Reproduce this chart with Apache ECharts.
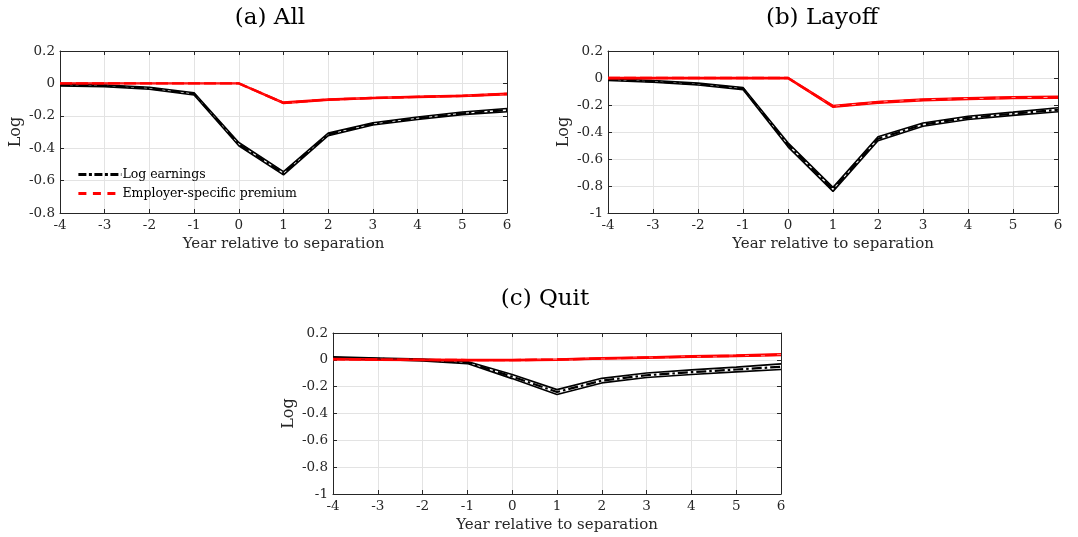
<!DOCTYPE html>
<html><head><meta charset="utf-8">
<script src="https://cdn.jsdelivr.net/npm/echarts@6/dist/echarts.min.js"></script>
<style>html,body{margin:0;padding:0;background:#fff}#c{width:1078px;height:537px}</style>
</head><body><div id="c"></div>
<script>
const years = [-4,-3,-2,-1,0,1,2,3,4,5,6];
const panelTitles = ['(a) All','(b) Layoff','(c) Quit'];
const legendNames = ['Log earnings','Employer-specific premium'];
const xAxisTitle = 'Year relative to separation';
const yAxisTitle = 'Log';

// (a) All
const allEarn   = [-0.010,-0.015,-0.030,-0.065,-0.375,-0.555,-0.315,-0.250,-0.215,-0.185,-0.165];
const allEarnHi = [-0.005,-0.010,-0.024,-0.058,-0.365,-0.545,-0.307,-0.243,-0.207,-0.177,-0.155];
const allEarnLo = [-0.015,-0.020,-0.036,-0.072,-0.385,-0.565,-0.323,-0.257,-0.223,-0.193,-0.175];
const allPrem   = [0.000,0.000,0.000,0.000,0.000,-0.120,-0.100,-0.090,-0.083,-0.077,-0.065];
const allPremHi = [0.003,0.003,0.003,0.003,0.003,-0.115,-0.096,-0.086,-0.079,-0.073,-0.060];
const allPremLo = [-0.003,-0.003,-0.003,-0.003,-0.003,-0.125,-0.104,-0.094,-0.087,-0.081,-0.070];

// (b) Layoff
const layEarn   = [-0.012,-0.025,-0.045,-0.078,-0.495,-0.825,-0.450,-0.345,-0.295,-0.265,-0.235];
const layEarnHi = [-0.006,-0.018,-0.038,-0.070,-0.480,-0.810,-0.435,-0.333,-0.283,-0.253,-0.220];
const layEarnLo = [-0.018,-0.032,-0.052,-0.086,-0.510,-0.840,-0.465,-0.357,-0.307,-0.277,-0.250];
const layPrem   = [0.000,0.000,0.000,0.000,0.000,-0.210,-0.180,-0.162,-0.152,-0.146,-0.142];
const layPremHi = [0.005,0.005,0.005,0.005,0.005,-0.203,-0.173,-0.155,-0.145,-0.139,-0.134];
const layPremLo = [-0.005,-0.005,-0.005,-0.005,-0.005,-0.217,-0.187,-0.169,-0.159,-0.153,-0.150];

// (c) Quit
const quitEarn   = [0.015,0.008,-0.002,-0.020,-0.125,-0.240,-0.155,-0.115,-0.092,-0.072,-0.052];
const quitEarnHi = [0.022,0.014,0.005,-0.012,-0.110,-0.222,-0.138,-0.098,-0.075,-0.054,-0.030];
const quitEarnLo = [0.008,0.002,-0.009,-0.028,-0.140,-0.258,-0.172,-0.132,-0.109,-0.090,-0.072];
const quitPrem   = [0.005,0.002,0.000,-0.002,-0.002,0.002,0.010,0.017,0.024,0.030,0.038];
const quitPremHi = [0.010,0.007,0.005,0.003,0.003,0.007,0.015,0.022,0.030,0.036,0.045];
const quitPremLo = [0.000,-0.003,-0.005,-0.007,-0.007,-0.003,0.005,0.012,0.018,0.024,0.031];

const yMins = [-0.8,-1,-1];
const yMax = 0.2;

const panels = [
  [allEarn,allEarnHi,allEarnLo,allPrem,allPremHi,allPremLo],
  [layEarn,layEarnHi,layEarnLo,layPrem,layPremHi,layPremLo],
  [quitEarn,quitEarnHi,quitEarnLo,quitPrem,quitPremHi,quitPremLo]
];

const FONT = '"DejaVu Serif", "Liberation Serif", serif';
const AX = '#262626';
const GRIDC = '#e3e3e3';
const grids = [
  {left:60, top:51, width:447, height:162},
  {left:608, top:51, width:450, height:162},
  {left:333, top:333, width:448, height:161}
];
const titlePos = [[270,18],[822,18],[545,299]];

const xAxes = [], yAxes = [], series = [];
const pair = (arr) => years.map((y,i)=>[y,arr[i]]);
grids.forEach((g,i)=>{
  const base = {
    gridIndex:i, type:'value', min:-4, max:6, interval:1,
    axisLine:{show:true, onZero:false, lineStyle:{color:AX,width:1}},
    axisTick:{show:true, inside:true, length:4, lineStyle:{color:AX}},
  };
  xAxes.push(Object.assign({}, base, {
    position:'bottom',
    name:xAxisTitle, nameLocation:'middle', nameGap:24,
    nameTextStyle:{fontFamily:FONT, fontSize:15, color:AX},
    axisLabel:{fontFamily:FONT, fontSize:13.5, color:AX, margin:5},
    splitLine:{show:true, lineStyle:{color:GRIDC,width:1}}
  }));
  xAxes.push(Object.assign({}, base, {
    position:'top', axisLabel:{show:false}, splitLine:{show:false}
  }));
  const ybase = {
    gridIndex:i, type:'value', min:yMins[i], max:yMax, interval:0.2,
    axisLine:{show:true, onZero:false, lineStyle:{color:AX,width:1}},
    axisTick:{show:true, inside:true, length:4, lineStyle:{color:AX}},
  };
  yAxes.push(Object.assign({}, ybase, {
    position:'left',
    name:yAxisTitle, nameLocation:'middle', nameGap:36, nameRotate:90,
    nameTextStyle:{fontFamily:FONT, fontSize:16, color:AX},
    axisLabel:{fontFamily:FONT, fontSize:13.5, color:AX, margin:5,
      formatter:v=>String(Math.round(v*10)/10)},
    splitLine:{show:true, lineStyle:{color:GRIDC,width:1}}
  }));
  yAxes.push(Object.assign({}, ybase, {
    position:'right', axisLabel:{show:false}, splitLine:{show:false}
  }));
  const d = panels[i];
  const mk = (name, arr, color, width, type, z) => ({
    type:'line', name, xAxisIndex:2*i, yAxisIndex:2*i, data:pair(arr),
    symbol:'none', showSymbol:false, silent:true, animation:false, z,
    itemStyle:{color}, lineStyle:{color, width, type}
  });
  series.push(mk('earnHi'+i, d[1], '#000', 1.6, 'solid', 2));
  series.push(mk('earnLo'+i, d[2], '#000', 1.6, 'solid', 2));
  series.push(mk(legendNames[0], d[0], '#000', 2.2, [10,3,2.5,3], 3));
  series.push(mk('premHi'+i, d[4], '#ff0000', 1.4, 'solid', 4));
  series.push(mk('premLo'+i, d[5], '#ff0000', 1.4, 'solid', 4));
  series.push(mk(legendNames[1], d[3], '#ff0000', 2.4, [12,4], 5));
});

const graphics = panelTitles.map((t,i)=>({
  type:'text', x:titlePos[i][0], y:titlePos[i][1],
  style:{text:t, font:'23px '+FONT, fill:'#000', textAlign:'center', textVerticalAlign:'middle'}
}));

const chart = echarts.init(document.getElementById('c'), null, {renderer:'canvas'});
chart.setOption({
  animation:false,
  backgroundColor:'#fff',
  grid:grids,
  xAxis:xAxes,
  yAxis:yAxes,
  series,
  graphic:graphics,
  legend:{
    data:[
      {name:legendNames[0], lineStyle:{width:2.8, type:[8,2.5,3,2.5], color:'#000'}},
      {name:legendNames[1], lineStyle:{width:2.8, type:[8,6.5], color:'#ff0000'}}
    ],
    orient:'vertical', left:77, top:168,
    itemWidth:43, itemHeight:10, itemGap:6,
    itemStyle:{opacity:0},
    textStyle:{fontFamily:FONT, fontSize:12.5, color:'#000', padding:[0,0,0,-4]},
    selectedMode:false, padding:0
  }
});
</script></body></html>
